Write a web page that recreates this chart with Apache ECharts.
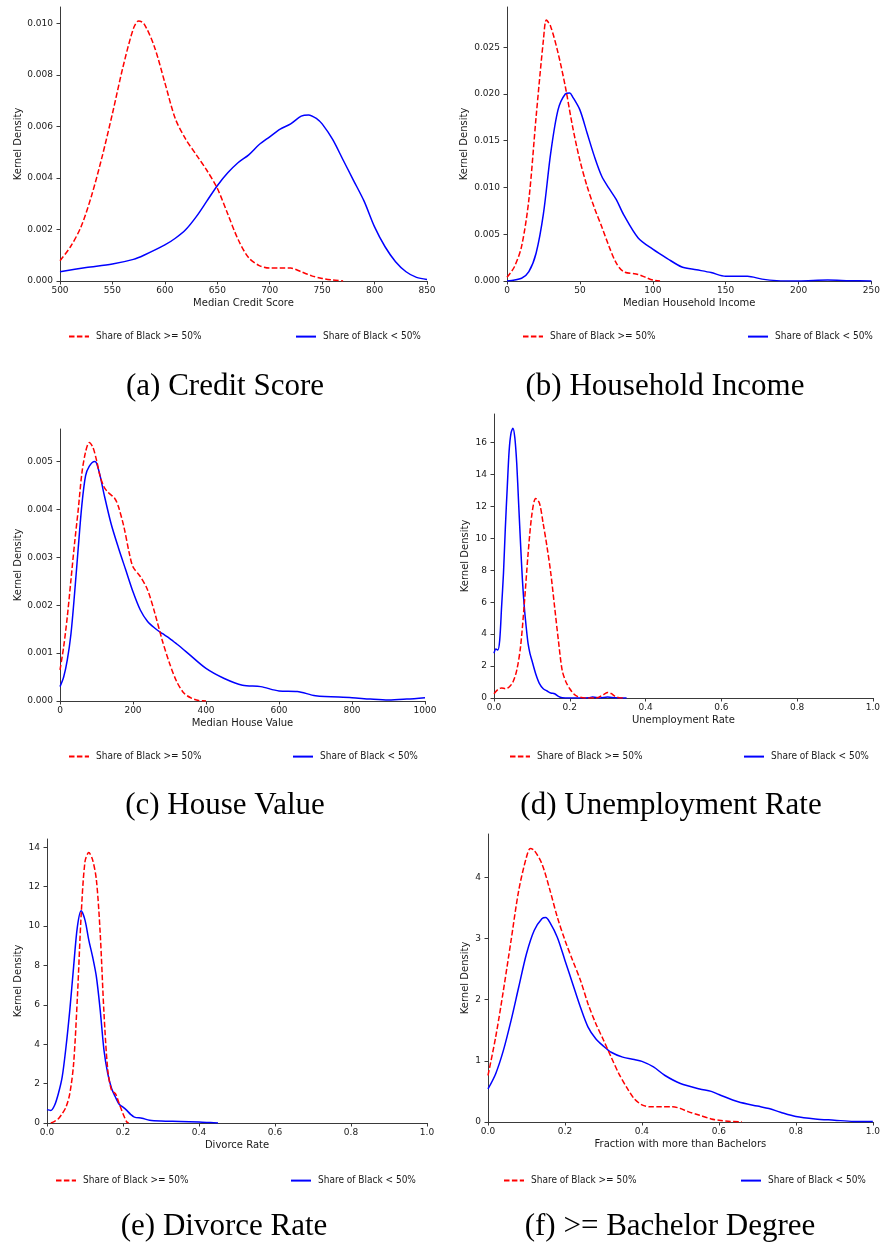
<!DOCTYPE html>
<html><head><meta charset="utf-8">
<script src="https://cdn.jsdelivr.net/npm/echarts@6/dist/echarts.min.js"></script>
<style>html,body{margin:0;padding:0;background:#fff}#c{width:883px;height:1247px}</style>
</head><body><div id="c"></div>
<script>
// ---------- DATA ----------
const seriesNames = ['Share of Black >= 50%', 'Share of Black < 50%'];
const captions = ['(a) Credit Score', '(b) Household Income', '(c) House Value', '(d) Unemployment Rate', '(e) Divorce Rate', '(f) >= Bachelor Degree'];
const xTitles = ['Median Credit Score', 'Median Household Income', 'Median House Value', 'Unemployment Rate', 'Divorce Rate', 'Fraction with more than Bachelors'];
const yTitle = 'Kernel Density';

const creditXTicks = [500, 550, 600, 650, 700, 750, 800, 850];
const creditYTicks = [0, 0.002, 0.004, 0.006, 0.008, 0.010];
const incomeXTicks = [0, 50, 100, 150, 200, 250];
const incomeYTicks = [0, 0.005, 0.010, 0.015, 0.020, 0.025];
const houseXTicks = [0, 200, 400, 600, 800, 1000];
const houseYTicks = [0, 0.001, 0.002, 0.003, 0.004, 0.005];
const unempXTicks = [0, 0.2, 0.4, 0.6, 0.8, 1.0];
const unempYTicks = [0, 2, 4, 6, 8, 10, 12, 14, 16];
const divorceXTicks = [0, 0.2, 0.4, 0.6, 0.8, 1.0];
const divorceYTicks = [0, 2, 4, 6, 8, 10, 12, 14];
const bachXTicks = [0, 0.2, 0.4, 0.6, 0.8, 1.0];
const bachYTicks = [0, 1, 2, 3, 4];

const creditHigh = [[500,0.00079],[510,0.00133],[520,0.0021],[530,0.0033],[540,0.0048],[550,0.0065],[560,0.0083],[570,0.0098],[575,0.0101],[580,0.0100],[590,0.0091],[600,0.0077],[610,0.0063],[620,0.0055],[630,0.0049],[640,0.0043],[650,0.0036],[660,0.0026],[670,0.0016],[680,0.0009],[690,0.0006],[700,0.0005],[710,0.0005],[720,0.0005],[730,0.00036],[740,0.0002],[750,0.0001],[760,0.00004],[770,0]];
const creditLow = [[500,0.00036],[525,0.00052],[550,0.00066],[570,0.00084],[580,0.001],[600,0.0014],[610,0.00166],[620,0.002],[630,0.0025],[640,0.0031],[650,0.0037],[660,0.0042],[670,0.0046],[680,0.0049],[690,0.0053],[700,0.0056],[710,0.0059],[720,0.0061],[730,0.0064],[737,0.00645],[745,0.0063],[750,0.0061],[760,0.0055],[770,0.0047],[780,0.0039],[790,0.0031],[800,0.0021],[810,0.00133],[820,0.00075],[830,0.00036],[840,0.00014],[850,0.00006]];

const incomeHigh = [[0,0.0004],[5,0.0015],[10,0.0037],[15,0.0087],[20,0.0176],[25,0.0258],[27,0.0279],[30,0.0272],[35,0.0244],[40,0.0208],[45,0.0165],[50,0.0129],[55,0.0101],[60,0.0078],[65,0.0058],[70,0.0037],[75,0.0019],[80,0.001],[90,0.0007],[95,0.0004],[100,0.0001],[105,0]];
const incomeLow = [[0,0],[10,0.0003],[15,0.001],[20,0.003],[25,0.0072],[30,0.0137],[35,0.0183],[40,0.0200],[43,0.0201],[45,0.0197],[50,0.0183],[55,0.0158],[60,0.0133],[65,0.0112],[70,0.0099],[75,0.0087],[80,0.0071],[90,0.0046],[100,0.0034],[110,0.0024],[120,0.0015],[130,0.0012],[140,0.0009],[150,0.0005],[160,0.0005],[165,0.0005],[175,0.0002],[185,0.00004],[200,0],[220,0.0001],[235,0.00004],[250,0]];

const houseHigh = [[0,0.00065],[10,0.00113],[20,0.00176],[30,0.00253],[40,0.0033],[50,0.0040],[60,0.00476],[70,0.0052],[80,0.0054],[90,0.0053],[100,0.00503],[110,0.00469],[120,0.00448],[130,0.00437],[150,0.00423],[160,0.00406],[175,0.00364],[190,0.00308],[200,0.0028],[220,0.0026],[240,0.00232],[260,0.00183],[280,0.00127],[300,0.00079],[320,0.0004],[340,0.00016],[360,0.00006],[380,0.00001],[400,0]];
const houseLow = [[0,0.0003],[10,0.0005],[20,0.00086],[30,0.0014],[40,0.00225],[50,0.0032],[60,0.0041],[70,0.0047],[80,0.0049],[95,0.0050],[100,0.00497],[110,0.0047],[120,0.00434],[140,0.0037],[160,0.0032],[180,0.00274],[200,0.00228],[220,0.0019],[240,0.00166],[260,0.00152],[280,0.00141],[300,0.00131],[320,0.00119],[350,0.001],[400,0.00068],[450,0.00047],[500,0.00033],[550,0.0003],[600,0.00021],[650,0.0002],[700,0.00011],[800,0.00007],[850,0.00004],[900,0.00002],[950,0.00004],[1000,0.00007]];

const unempHigh = [[0,0.27],[0.01,0.52],[0.02,0.63],[0.03,0.58],[0.04,0.69],[0.05,1.0],[0.06,1.73],[0.07,3.2],[0.08,5.9],[0.09,9.04],[0.10,11.5],[0.11,12.5],[0.12,12.2],[0.13,10.9],[0.14,9.46],[0.15,7.8],[0.16,5.7],[0.17,3.6],[0.18,1.73],[0.19,1.0],[0.20,0.58],[0.21,0.27],[0.22,0.1],[0.24,0],[0.27,0],[0.29,0.23],[0.30,0.35],[0.31,0.27],[0.32,0.1],[0.33,0.02],[0.34,0]];
const unempLow = [[0,2.8],[0.005,3.07],[0.01,3.0],[0.015,3.6],[0.02,5.7],[0.025,7.8],[0.03,10.7],[0.035,13.2],[0.04,15.5],[0.045,16.6],[0.05,16.9],[0.055,16.3],[0.06,14.7],[0.065,12.2],[0.07,9.7],[0.075,7.4],[0.08,5.7],[0.085,4.45],[0.09,3.4],[0.095,2.78],[0.10,2.36],[0.11,1.52],[0.12,0.9],[0.13,0.58],[0.14,0.44],[0.15,0.31],[0.16,0.27],[0.17,0.1],[0.18,0.02],[0.20,0],[0.25,0.02],[0.26,0.06],[0.28,0],[0.30,0.06],[0.32,0.02],[0.35,0]];

const divorceHigh = [[0.01,0],[0.02,0.08],[0.03,0.22],[0.04,0.47],[0.05,0.81],[0.06,1.49],[0.07,3.0],[0.08,6.4],[0.09,10.6],[0.10,13.27],[0.11,13.73],[0.12,13.36],[0.13,12.34],[0.14,9.63],[0.15,5.56],[0.16,2.68],[0.17,1.66],[0.18,1.49],[0.19,0.98],[0.20,0.47],[0.21,0.05],[0.215,0]];
const divorceLow = [[0,0.68],[0.01,0.64],[0.02,0.9],[0.03,1.5],[0.04,2.34],[0.05,3.86],[0.06,5.73],[0.07,7.93],[0.08,9.97],[0.09,10.78],[0.10,10.3],[0.11,9.29],[0.12,8.44],[0.13,7.42],[0.14,5.73],[0.15,3.69],[0.16,2.5],[0.17,1.75],[0.18,1.32],[0.19,0.95],[0.20,0.81],[0.21,0.64],[0.22,0.44],[0.23,0.3],[0.25,0.24],[0.27,0.14],[0.30,0.1],[0.35,0.08],[0.40,0.05],[0.43,0.02],[0.45,0]];

const bachHigh = [[0,0.76],[0.02,1.39],[0.04,2.15],[0.06,2.97],[0.08,3.79],[0.10,4.33],[0.11,4.47],[0.12,4.44],[0.14,4.22],[0.16,3.81],[0.18,3.35],[0.20,2.97],[0.22,2.64],[0.24,2.32],[0.26,1.93],[0.28,1.61],[0.30,1.34],[0.32,1.06],[0.34,0.79],[0.36,0.57],[0.38,0.38],[0.40,0.28],[0.42,0.25],[0.45,0.25],[0.48,0.25],[0.50,0.22],[0.52,0.17],[0.55,0.11],[0.58,0.05],[0.60,0.03],[0.63,0.01],[0.66,0.005]];
const bachLow = [[0,0.54],[0.02,0.79],[0.04,1.17],[0.06,1.66],[0.08,2.21],[0.10,2.75],[0.12,3.13],[0.14,3.32],[0.15,3.34],[0.16,3.27],[0.18,3.02],[0.20,2.64],[0.22,2.26],[0.24,1.88],[0.26,1.55],[0.28,1.36],[0.30,1.24],[0.32,1.14],[0.35,1.06],[0.38,1.02],[0.40,0.99],[0.43,0.9],[0.46,0.76],[0.50,0.63],[0.55,0.54],[0.58,0.5],[0.60,0.45],[0.65,0.33],[0.70,0.26],[0.73,0.22],[0.76,0.16],[0.80,0.09],[0.85,0.05],[0.90,0.03],[0.95,0.01],[1.0,0.01]];

// ---------- LAYOUT ----------
const panels = [
  {high: creditHigh, low: creditLow, xt: creditXTicks, yt: creditYTicks, yDec: 3, xDec: 0,
   grid: {left: 60, top: 7, width: 367, height: 274}, yMax: 0.01064, yGap: 37, legend: [68, 295, 331], cap: [225, 387]},
  {high: incomeHigh, low: incomeLow, xt: incomeXTicks, yt: incomeYTicks, yDec: 3, xDec: 0,
   grid: {left: 507, top: 7, width: 367, height: 274}, yMax: 0.0293, yGap: 38, legend: [522, 747, 331], cap: [665, 387]},
  {high: houseHigh, low: houseLow, xt: houseXTicks, yt: houseYTicks, yDec: 3, xDec: 0,
   grid: {left: 60, top: 429, width: 365, height: 272}, yMax: 0.00568, yGap: 37, legend: [68, 292, 751], cap: [225, 806]},
  {high: unempHigh, low: unempLow, xt: unempXTicks, yt: unempYTicks, yDec: 0, xDec: 1,
   grid: {left: 494, top: 414, width: 380, height: 284}, yMax: 17.79, yGap: 24, legend: [509, 743, 751], cap: [671, 806]},
  {high: divorceHigh, low: divorceLow, xt: divorceXTicks, yt: divorceYTicks, yDec: 0, xDec: 1,
   grid: {left: 47, top: 839, width: 380, height: 284}, yMax: 14.42, yGap: 24, legend: [55, 290, 1175], cap: [224, 1227]},
  {high: bachHigh, low: bachLow, xt: bachXTicks, yt: bachYTicks, yDec: 0, xDec: 1,
   grid: {left: 488, top: 834, width: 386, height: 288}, yMax: 4.706, yGap: 18, legend: [503, 740, 1175], cap: [670, 1227]}
];

const axisColor = '#3a3a3a';
const textColor = '#1a1a1a';
const grids = [], xAxes = [], yAxes = [], series = [], legends = [], graphics = [];

panels.forEach((p, i) => {
  grids.push(Object.assign({containLabel: false}, p.grid));
  xAxes.push({
    type: 'value', gridIndex: i, min: p.xt[0], max: p.xt[p.xt.length - 1],
    name: xTitles[i], nameLocation: 'middle', nameGap: 17,
    nameTextStyle: {fontFamily: 'DejaVu Sans', fontSize: 10, color: textColor},
    splitLine: {show: false},
    axisLine: {lineStyle: {color: axisColor, width: 1}},
    axisTick: {customValues: p.xt, length: 3.5, lineStyle: {color: axisColor}},
    axisLabel: {customValues: p.xt, margin: 5, fontFamily: 'DejaVu Sans', fontSize: 9, color: textColor,
      formatter: v => v.toFixed(p.xDec)}
  });
  yAxes.push({
    type: 'value', gridIndex: i, min: 0, max: p.yMax,
    name: yTitle, nameLocation: 'middle', nameGap: p.yGap,
    nameTextStyle: {fontFamily: 'DejaVu Sans', fontSize: 10, color: textColor},
    splitLine: {show: false},
    axisLine: {show: true, lineStyle: {color: axisColor, width: 1}},
    axisTick: {show: true, customValues: p.yt, length: 3.5, lineStyle: {color: axisColor}},
    axisLabel: {customValues: p.yt, margin: 7, fontFamily: 'DejaVu Sans', fontSize: 9, color: textColor,
      formatter: v => v.toFixed(p.yDec)}
  });
  series.push({
    type: 'line', name: seriesNames[0], xAxisIndex: i, yAxisIndex: i, data: p.high,
    showSymbol: false, symbol: 'none', smooth: 0.3, z: 3,
    lineStyle: {color: '#ff0000', width: 1.5, type: [5.5, 2.4]}, itemStyle: {color: '#ff0000'}
  });
  series.push({
    type: 'line', name: seriesNames[1], xAxisIndex: i, yAxisIndex: i, data: p.low,
    showSymbol: false, symbol: 'none', smooth: 0.3, z: 2,
    lineStyle: {color: '#0000ff', width: 1.5, type: 'solid'}, itemStyle: {color: '#0000ff'}
  });
  [0, 1].forEach(k => {
    legends.push({
      data: [seriesNames[k]], left: p.legend[k], top: p.legend[2], padding: 0,
      itemWidth: 20, itemHeight: 14, itemGap: 0, selectedMode: false,
      itemStyle: {opacity: 0, borderWidth: 0},
      lineStyle: {width: 2},
      textStyle: {fontFamily: "'DejaVu Sans Condensed', 'Liberation Sans Narrow', 'DejaVu Sans'", fontSize: 10, color: textColor, padding: [0, 0, 0, 2]}
    });
  });
  graphics.push({
    type: 'text', x: p.cap[0], y: p.cap[1],
    style: {text: captions[i], fill: '#000', font: "31px 'Liberation Serif'", textAlign: 'center', textVerticalAlign: 'middle'}
  });
});

const chart = echarts.init(document.getElementById('c'), null, {renderer: 'canvas'});
chart.setOption({
  backgroundColor: '#fff', animation: false,
  grid: grids, xAxis: xAxes, yAxis: yAxes, series: series, legend: legends, graphic: graphics
});
</script></body></html>
